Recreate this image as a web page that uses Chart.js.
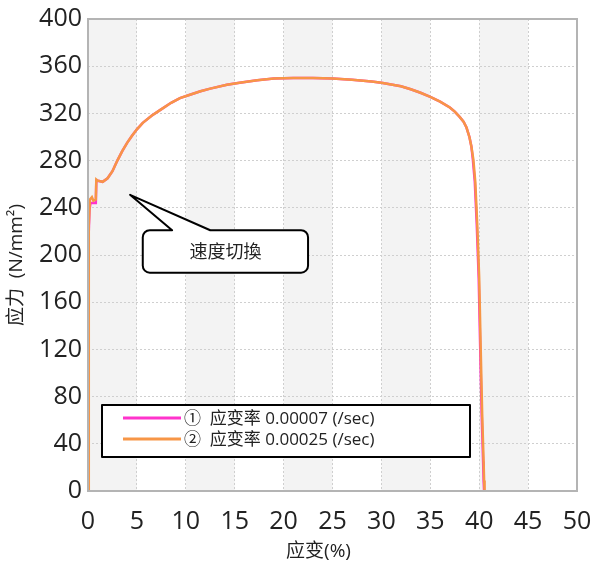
<!DOCTYPE html>
<html>
<head>
<meta charset="utf-8">
<script src="https://cdn.jsdelivr.net/npm/chart.js@4.4.1/dist/chart.umd.min.js"></script>
<style>
  body { margin: 0; background: #fff; }
  canvas { display: block; }
</style>
</head>
<body>
<canvas id="stress" width="594" height="563"></canvas>
<script>
// 应变 (%) / 应力 (N/mm2)
var strain1 = [0.07, 0.15, 0.25, 0.5, 0.8, 0.85, 1.0, 1.5, 2.0, 2.5, 3.0, 3.5, 4.0, 4.5, 5.0, 5.6, 6.5, 7.4, 8.5, 9.4, 10.5, 11.5, 12.5, 14.2, 15.5, 17.3, 19, 21, 23, 25, 27, 29, 30, 31, 32, 33, 34, 35, 36, 37, 37.5, 38, 38.4, 38.7, 39.0, 39.2, 39.35, 39.55, 39.75, 39.95, 40.1, 40.25, 40.4, 40.45, 40.5];
var stress1 = [218, 238, 244, 244, 244, 263, 263, 262, 265, 271, 280, 288, 295, 301, 306.5, 312, 318, 323, 329, 333, 336, 338.8, 341, 344.2, 346, 348, 349.5, 350, 350, 349.5, 348.5, 347, 346, 344.5, 343, 340.5, 337.5, 334, 330, 325, 321.5, 317, 313, 308, 300, 292, 281, 262, 226, 180, 122, 66, 25, 9, 0];

var strain2 = [0.07, 0.08, 0.2, 0.4, 0.55, 0.8, 0.85, 1.0, 1.5, 2.0, 2.5, 3.0, 3.5, 4.0, 4.5, 5.0, 5.6, 6.5, 7.4, 8.5, 9.4, 10.5, 11.5, 12.5, 14.2, 15.5, 17.3, 19, 21, 23, 25, 27, 29, 30, 31, 32, 33, 34, 35, 36, 37, 37.5, 38, 38.4, 38.7, 39.0, 39.2, 39.4, 39.6, 39.8, 40.0, 40.15, 40.3, 40.45, 40.5, 40.55];
var stress2 = [0, 225, 247, 249, 246, 247, 264, 263, 262, 265, 271, 280, 288, 295, 301, 306.5, 312, 318, 323, 329, 333, 336, 338.8, 341, 344.2, 346, 348, 349.5, 350, 350, 349.5, 348.5, 347, 346, 344.5, 343, 340.5, 337.5, 334, 330, 325, 321.5, 317, 313, 308, 300, 292, 281, 262, 226, 180, 122, 66, 25, 9, 0];

var seriesLabels = ['①  应变率 0.00007 (/sec)', '②  应变率 0.00025 (/sec)'];
var seriesColors = ['#ff33cc', '#f79646'];

// callout "速度切換": tip, box corners and tail base in data units
var calloutText = '速度切換';
var calloutTip = [4.3, 251];
var calloutBox = [5.6, 221, 22.5, 185];
var calloutTail = [8.6, 12.5];

var FONT = '"Open Sans", "Noto Sans CJK SC", sans-serif';

function toPoints(xs, ys) {
    var pts = [];
    for (var i = 0; i < xs.length; i++) {
        pts.push({ x: xs[i], y: ys[i] });
    }
    return pts;
}

var extras = {
    id: 'extras',
    beforeDraw: function (chart) {
        var ctx = chart.ctx;
        var a = chart.chartArea;
        var xs = chart.scales.x;
        var ticks = xs.ticks;
        ctx.save();
        ctx.fillStyle = '#f3f3f3';
        for (var i = 0; i < ticks.length - 1; i += 2) {
            var l = xs.getPixelForValue(ticks[i].value);
            var r = xs.getPixelForValue(ticks[i + 1].value);
            ctx.fillRect(l, a.top, r - l, a.bottom - a.top);
        }
        ctx.restore();
    },
    afterDraw: function (chart) {
        var ctx = chart.ctx;
        var a = chart.chartArea;
        var xs = chart.scales.x;
        var ys = chart.scales.y;

        // plot frame
        ctx.save();
        ctx.strokeStyle = '#b4b4b4';
        ctx.lineWidth = 2;
        ctx.strokeRect(a.left, a.top, a.right - a.left, a.bottom - a.top);

        // axis titles
        ctx.fillStyle = '#222';
        ctx.font = '19px ' + FONT;
        ctx.textAlign = 'center';
        ctx.textBaseline = 'middle';
        ctx.fillText('应变(%)', (a.left + a.right) / 2 - 14, 552);
        ctx.save();
        ctx.translate(17, (a.top + a.bottom) / 2 + 10);
        ctx.rotate(-Math.PI / 2);
        ctx.fillText('应力  (N/mm²)', 0, 0);
        ctx.restore();

        // callout
        var bl = xs.getPixelForValue(calloutBox[0]);
        var bt = ys.getPixelForValue(calloutBox[1]);
        var br = xs.getPixelForValue(calloutBox[2]);
        var bb = ys.getPixelForValue(calloutBox[3]);
        var t1 = xs.getPixelForValue(calloutTail[0]);
        var t2 = xs.getPixelForValue(calloutTail[1]);
        var tx = xs.getPixelForValue(calloutTip[0]);
        var ty = ys.getPixelForValue(calloutTip[1]);
        var rad = 7;
        ctx.beginPath();
        ctx.moveTo(bl + rad, bt);
        ctx.lineTo(t1, bt);
        ctx.lineTo(tx, ty);
        ctx.lineTo(t2, bt);
        ctx.lineTo(br - rad, bt);
        ctx.arcTo(br, bt, br, bt + rad, rad);
        ctx.lineTo(br, bb - rad);
        ctx.arcTo(br, bb, br - rad, bb, rad);
        ctx.lineTo(bl + rad, bb);
        ctx.arcTo(bl, bb, bl, bb - rad, rad);
        ctx.lineTo(bl, bt + rad);
        ctx.arcTo(bl, bt, bl + rad, bt, rad);
        ctx.closePath();
        ctx.fillStyle = '#fff';
        ctx.fill();
        ctx.strokeStyle = '#000';
        ctx.lineWidth = 2;
        ctx.lineJoin = 'round';
        ctx.stroke();
        ctx.fillStyle = '#222';
        ctx.font = '18px ' + FONT;
        ctx.fillText(calloutText, (bl + br) / 2, (bt + bb) / 2 + 1);

        // legend box inside the plot
        var lx = a.left + 14, ly = 405, lw = 368, lh = 52;
        ctx.fillStyle = '#fff';
        ctx.fillRect(lx, ly, lw, lh);
        ctx.strokeStyle = '#000';
        ctx.lineWidth = 2;
        ctx.strokeRect(lx, ly, lw, lh);
        ctx.font = '17px ' + FONT;
        ctx.textAlign = 'left';
        chart.data.datasets.forEach(function (ds, i) {
            var y = ly + 13 + i * 21;
            ctx.strokeStyle = ds.borderColor;
            ctx.lineWidth = 3;
            ctx.beginPath();
            ctx.moveTo(lx + 21, y);
            ctx.lineTo(lx + 79, y);
            ctx.stroke();
            ctx.fillStyle = '#222';
            ctx.fillText(ds.label, lx + 82, y + 1);
        });
        ctx.restore();
    }
};

var config = {
    type: 'scatter',
    data: {
        datasets: [{
            label: seriesLabels[0],
            data: toPoints(strain1, stress1),
            borderColor: seriesColors[0],
            backgroundColor: seriesColors[0],
            showLine: true,
            pointRadius: 0,
            borderWidth: 2.5,
            order: 1
        }, {
            label: seriesLabels[1],
            data: toPoints(strain2, stress2),
            borderColor: seriesColors[1],
            backgroundColor: seriesColors[1],
            showLine: true,
            pointRadius: 0,
            borderWidth: 2.5,
            order: 0
        }]
    },
    options: {
        responsive: false,
        animation: false,
        layout: {
            padding: { top: 19, right: 17, left: 0, bottom: 0 }
        },
        plugins: {
            legend: { display: false },
            tooltip: { enabled: false }
        },
        scales: {
            x: {
                type: 'linear',
                min: 0,
                max: 50,
                ticks: {
                    stepSize: 5,
                    padding: 16,
                    color: '#222',
                    font: { family: FONT, size: 25 }
                },
                grid: {
                    color: '#cfcfcf',
                    drawTicks: false
                },
                border: { display: false, dash: [2, 2] },
                afterFit: function (scale) {
                    scale.height = 72;
                    scale.paddingLeft = 0;
                    scale.paddingRight = 0;
                }
            },
            y: {
                min: 0,
                max: 400,
                ticks: {
                    stepSize: 40,
                    padding: 6,
                    color: '#222',
                    font: { family: FONT, size: 25 }
                },
                grid: {
                    color: '#cfcfcf',
                    drawTicks: false
                },
                border: { display: false, dash: [2, 2] },
                afterFit: function (scale) {
                    scale.width = 88;
                    scale.paddingTop = 0;
                    scale.paddingBottom = 0;
                }
            }
        }
    },
    plugins: [extras]
};

var ctx = document.getElementById('stress').getContext('2d');
new Chart(ctx, config);
</script>
</body>
</html>
